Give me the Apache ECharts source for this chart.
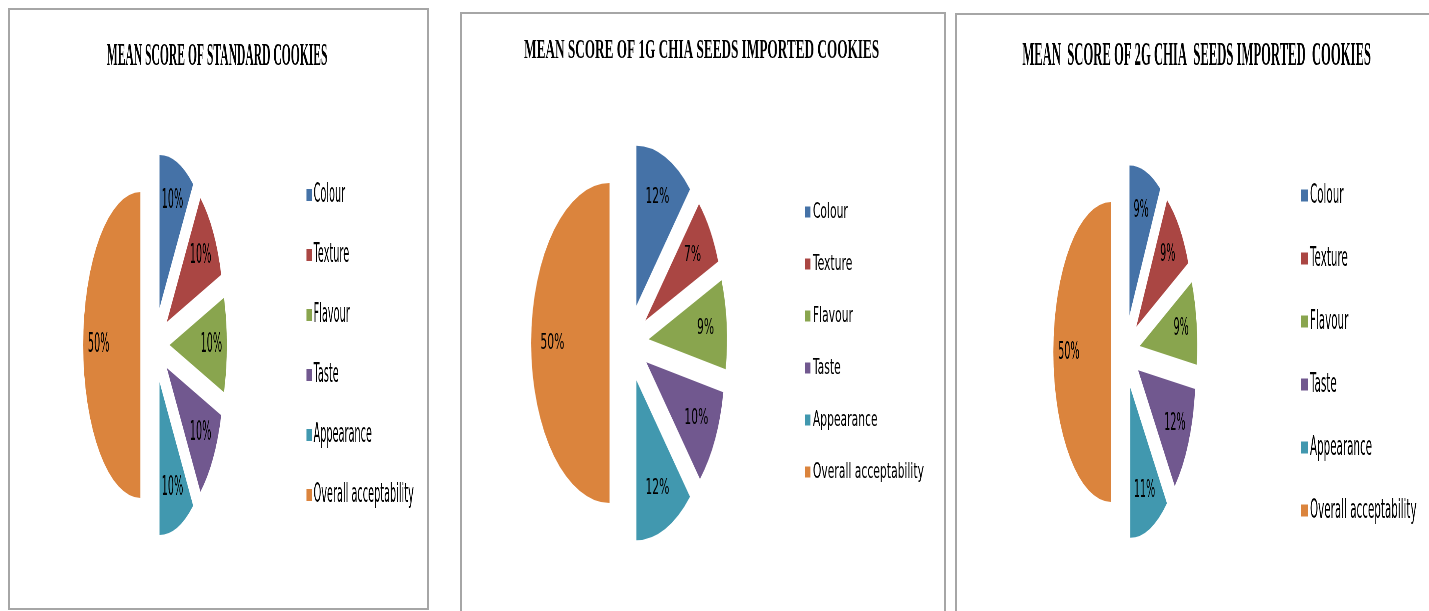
<!DOCTYPE html>
<html>
<head>
<meta charset="utf-8">
<script src="https://cdn.jsdelivr.net/npm/echarts@6/dist/echarts.min.js"></script>
<style>
    body { margin: 0; background: #fff; overflow: hidden; width: 1429px; height: 611px; position: relative; }
    .chart { position: absolute; top: 0; height: 611px; transform-origin: 0 0; }
    .frame { position: absolute; border: 2px solid #a6a6a6; pointer-events: none; }
</style>
</head>
<body>
<div id="chart-standard" class="chart"></div>
<div id="chart-chia-1g" class="chart"></div>
<div id="chart-chia-2g" class="chart"></div>
<div class="frame" style="left:8px; top:8px; width:417px; height:598px;"></div>
<div class="frame" style="left:460px; top:12px; width:482px; height:700px;"></div>
<div class="frame" style="left:955px; top:13px; width:600px; height:700px;"></div>
<script>
// sensory attributes (legend order)
const categories = ['Colour', 'Texture', 'Flavour', 'Taste', 'Appearance', 'Overall acceptability'];

// mean score shares, in percent
const standardScores = [10, 10, 10, 10, 10, 50];
const chia1gScores = [12, 7, 9, 10, 12, 50];
const chia2gScores = [9, 9, 9, 12, 11, 50];

const chartTitles = [
    'MEAN SCORE OF STANDARD COOKIES',
    'MEAN SCORE OF 1G CHIA SEEDS IMPORTED COOKIES',
    'MEAN  SCORE OF 2G CHIA  SEEDS IMPORTED  COOKIES'
];

const palette = ['#4572a7', '#aa4643', '#89a54e', '#71588f', '#4198af', '#db843d'];

// the source picture is squeezed sideways, so each chart is drawn wide and scaled back in x
drawPanel('chart-standard', chartTitles[0], standardScores, {
    left: 11, scale: 0.374, width: 1110,
    cx: 385, cy: 345, r: 153, explode: 39,
    titleX: 551, titleTop: 41, titleSize: 31,
    legendLeft: 790, legendTop: 182, iconW: 14, iconH: 12, legendGap: 34, legendSize: 26,
    labelSize: 26
});
drawPanel('chart-chia-1g', chartTitles[1], chia1gScores, {
    left: 463, scale: 0.49, width: 982,
    cx: 339, cy: 343, r: 160, explode: 40,
    titleX: 487, titleTop: 38, titleSize: 27,
    legendLeft: 698, legendTop: 201, iconW: 11, iconH: 11, legendGap: 30, legendSize: 22,
    labelSize: 22
});
drawPanel('chart-chia-2g', chartTitles[2], chia2gScores, {
    left: 958, scale: 0.383, width: 1230,
    cx: 437, cy: 352, r: 150, explode: 38,
    titleX: 623, titleTop: 40, titleSize: 33,
    legendLeft: 896, legendTop: 182, iconW: 18, iconH: 12, legendGap: 36, legendSize: 27,
    labelSize: 25
});

function drawPanel(id, title, values, p) {
    let el = document.getElementById(id);
    el.style.left = p.left + 'px';
    el.style.width = p.width + 'px';
    el.style.transform = `scaleX(${p.scale})`;

    let myChart = echarts.init(el);

    let slices = categories.map((name, i) => ({ name: name, value: values[i], selected: true }));

    let option = {
        animation: false,
        backgroundColor: 'transparent',
        color: palette,
        title: {
            text: title,
            left: p.titleX,
            top: p.titleTop,
            textAlign: 'center',
            padding: 0,
            textStyle: {
                fontFamily: 'Liberation Serif',
                fontWeight: 'bold',
                fontSize: p.titleSize,
                color: '#000'
            }
        },
        legend: {
            orient: 'vertical',
            left: p.legendLeft,
            top: p.legendTop,
            padding: 0,
            icon: 'rect',
            itemWidth: p.iconW,
            itemHeight: p.iconH,
            itemGap: p.legendGap,
            selectedMode: false,
            data: categories,
            textStyle: {
                fontFamily: 'DejaVu Sans',
                fontSize: p.legendSize,
                color: '#000'
            }
        },
        series: [
            {
                name: 'slices',
                type: 'pie',
                center: [p.cx, p.cy],
                radius: [0, p.r],
                startAngle: 90,
                clockwise: true,
                selectedMode: 'multiple',
                selectedOffset: p.explode,
                label: { show: false },
                labelLine: { show: false },
                emphasis: { disabled: true },
                data: slices
            },
            {
                // transparent ring, only used to place the percent labels further out
                name: 'labels',
                type: 'pie',
                silent: true,
                center: [p.cx, p.cy],
                radius: [p.r * 0.42, p.r],
                startAngle: 90,
                clockwise: true,
                selectedMode: 'multiple',
                selectedOffset: p.explode,
                percentPrecision: 0,
                itemStyle: { color: 'rgba(0,0,0,0)' },
                select: { itemStyle: { color: 'rgba(0,0,0,0)' } },
                label: {
                    show: true,
                    position: 'inside',
                    formatter: '{d}%',
                    fontFamily: 'DejaVu Sans',
                    fontSize: p.labelSize,
                    color: '#000'
                },
                labelLine: { show: false },
                emphasis: { disabled: true },
                data: slices
            }
        ]
    };

    myChart.setOption(option);
}
</script>
</body>
</html>
